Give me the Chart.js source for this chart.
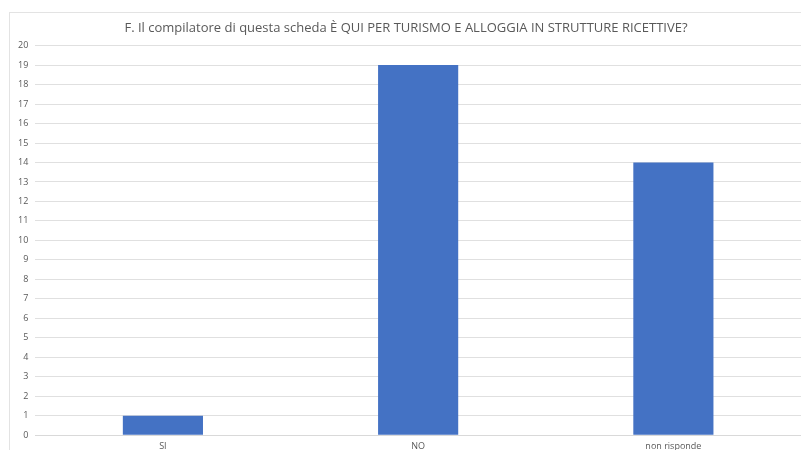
<!DOCTYPE html>
<html lang="it">
<head>
    <meta charset="UTF-8">
    <title>F. Il compilatore di questa scheda</title>
    <style>
        html, body {
            margin: 0;
            padding: 0;
            overflow: hidden;
            background-color: #ffffff;
            font-family: "Open Sans", Arial, sans-serif;
        }
        .frame {
            position: absolute;
            left: 9px;
            top: 12px;
            width: 800px;
            height: 450px;
            border: 1px solid #e3e3e3;
        }
        .wrap {
            position: absolute;
            left: 0;
            top: 0;
            width: 801px;
            height: 458px;
        }
    </style>
</head>
<body>
    <div class="frame"></div>
    <div class="wrap">
        <canvas id="chart"></canvas>
    </div>
    <script src="https://cdn.jsdelivr.net/npm/chart.js"></script>
    <script>
        const titolo = 'F. Il compilatore di questa scheda È QUI PER TURISMO E ALLOGGIA IN STRUTTURE RICETTIVE?';
        const categorie = ['SI', 'NO', 'non risponde'];
        const risposte = [1, 19, 14];

        const ctx = document.getElementById('chart').getContext('2d');
        new Chart(ctx, {
            type: 'bar',
            data: {
                labels: categorie,
                datasets: [{
                    label: 'Risposte',
                    data: risposte,
                    backgroundColor: '#4472c4',
                    borderWidth: 0,
                    barPercentage: 0.314,
                    categoryPercentage: 1
                }]
            },
            options: {
                responsive: true,
                maintainAspectRatio: false,
                animation: false,
                layout: {
                    padding: { left: 11, right: 0, top: 20, bottom: 0 }
                },
                plugins: {
                    legend: { display: false },
                    tooltip: { enabled: false },
                    title: {
                        display: true,
                        text: titolo,
                        color: '#595959',
                        font: { family: '"Open Sans", Arial, sans-serif', size: 13, weight: 'normal' },
                        padding: { top: 0, bottom: 10 }
                    }
                },
                scales: {
                    x: {
                        grid: { display: false, drawTicks: false },
                        border: { color: '#d9d9d9' },
                        ticks: {
                            color: '#595959',
                            font: { family: '"Open Sans", Arial, sans-serif', size: 9 },
                            padding: 6
                        }
                    },
                    y: {
                        min: 0,
                        max: 20,
                        grid: { color: '#e0e0e0', drawTicks: false },
                        border: { display: false },
                        ticks: {
                            stepSize: 1,
                            color: '#595959',
                            font: { family: '"Open Sans", Arial, sans-serif', size: 9 },
                            padding: 7
                        }
                    }
                }
            }
        });
    </script>
</body>
</html>
